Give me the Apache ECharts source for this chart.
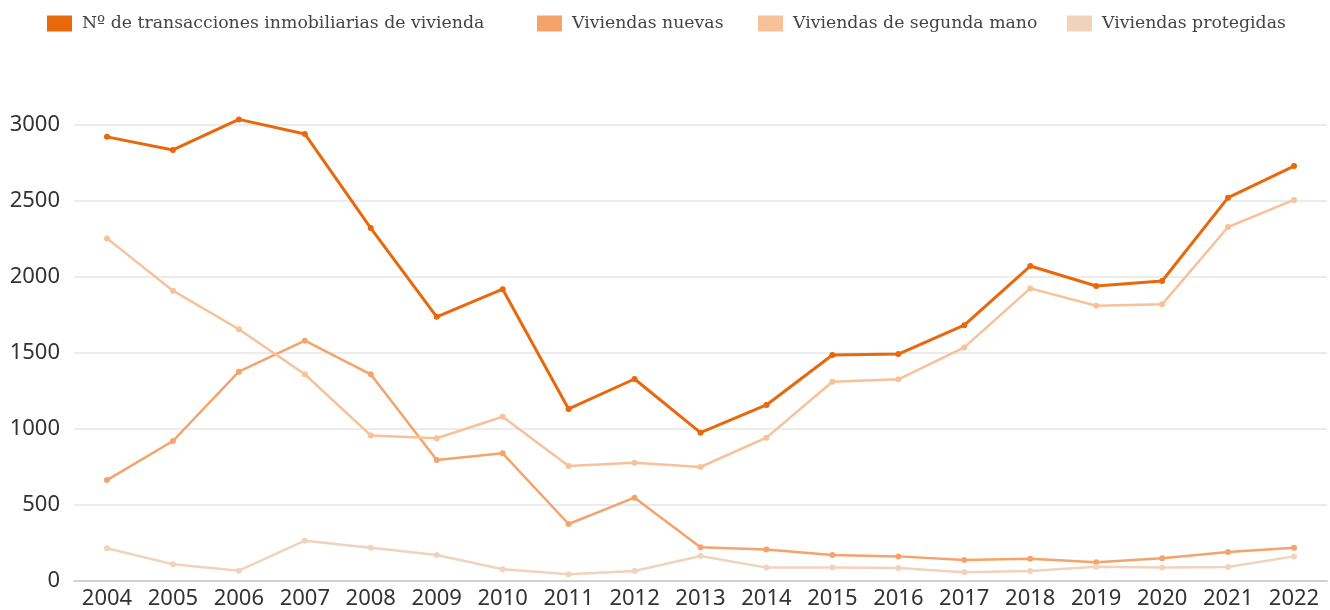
<!DOCTYPE html>
<html>
<head>
<meta charset="utf-8">
<script src="https://cdn.jsdelivr.net/npm/echarts@6/dist/echarts.min.js"></script>
<style>
  html, body { margin: 0; padding: 0; background: #fff; }
  #chart { width: 1330px; height: 610px; }
</style>
</head>
<body>
<div id="chart"></div>
<script>
// Years on the category axis
const years = ['2004','2005','2006','2007','2008','2009','2010','2011','2012','2013',
               '2014','2015','2016','2017','2018','2019','2020','2021','2022'];

// Series names
const nameTotal = 'Nº de transacciones inmobiliarias de vivienda';
const nameNew = 'Viviendas nuevas';
const nameUsed = 'Viviendas de segunda mano';
const nameProtected = 'Viviendas protegidas';

// Housing transactions per year
const totalTransactions = [2922, 2836, 3037, 2941, 2322, 1738, 1920, 1132, 1329, 976,
                           1158, 1487, 1493, 1683, 2072, 1941, 1974, 2522, 2730];
const newHomes = [664, 921, 1377, 1581, 1360, 796, 840, 375, 548, 222,
                  208, 171, 162, 138, 147, 123, 149, 191, 219];
const usedHomes = [2254, 1910, 1656, 1360, 958, 939, 1081, 757, 778, 750,
                   943, 1311, 1327, 1537, 1925, 1811, 1820, 2329, 2507];
const protectedHomes = [215, 110, 68, 265, 219, 171, 77, 44, 66, 164,
                        88, 88, 86, 57, 66, 94, 88, 92, 162];

// Y axis scale
const yMin = 0, yMax = 3000, yStep = 500;

const colors = ['#E8680C', '#F4A46B', '#F7C29A', '#F0D3BD'];

function legendAt(name, left) {
  return {
    data: [name],
    left: left,
    top: 10,
    itemWidth: 25,
    itemHeight: 16,
    icon: 'rect',
    selectedMode: false,
    textStyle: {
      fontFamily: 'DejaVu Serif',
      fontSize: 17.3,
      color: '#444',
      padding: [0, 0, 0, 5]
    }
  };
}

function lineSeries(name, data, color, width) {
  return {
    name: name,
    type: 'line',
    data: data,
    color: color,
    symbol: 'circle',
    symbolSize: 6,
    clip: false,
    lineStyle: { width: width, color: color },
    itemStyle: { color: color },
    emphasis: { disabled: true }
  };
}

const chart = echarts.init(document.getElementById('chart'));
chart.setOption({
  animation: false,
  legend: [
    legendAt(nameTotal, 42),
    legendAt(nameNew, 532),
    legendAt(nameUsed, 753),
    legendAt(nameProtected, 1062)
  ],
  grid: { left: 74, right: 3, top: 125, bottom: 29, outerBoundsMode: 'none' },
  xAxis: {
    type: 'category',
    data: years,
    boundaryGap: true,
    axisTick: { show: false },
    axisLine: { lineStyle: { color: '#d0d0d0', width: 2 } },
    axisLabel: {
      fontFamily: 'Noto Sans',
      fontSize: 22,
      color: '#333',
      margin: 7
    }
  },
  yAxis: {
    type: 'value',
    min: yMin,
    max: yMax,
    interval: yStep,
    axisLine: { show: false },
    axisTick: { show: false },
    splitLine: { lineStyle: { color: '#e6e6e6', width: 1.5 } },
    axisLabel: {
      fontFamily: 'Noto Sans',
      fontSize: 22,
      color: '#333',
      margin: 14,
      formatter: (v) => String(v)
    }
  },
  series: [
    lineSeries(nameTotal, totalTransactions, colors[0], 3),
    lineSeries(nameNew, newHomes, colors[1], 2.5),
    lineSeries(nameUsed, usedHomes, colors[2], 2.5),
    lineSeries(nameProtected, protectedHomes, colors[3], 2.5)
  ]
});
</script>
</body>
</html>
